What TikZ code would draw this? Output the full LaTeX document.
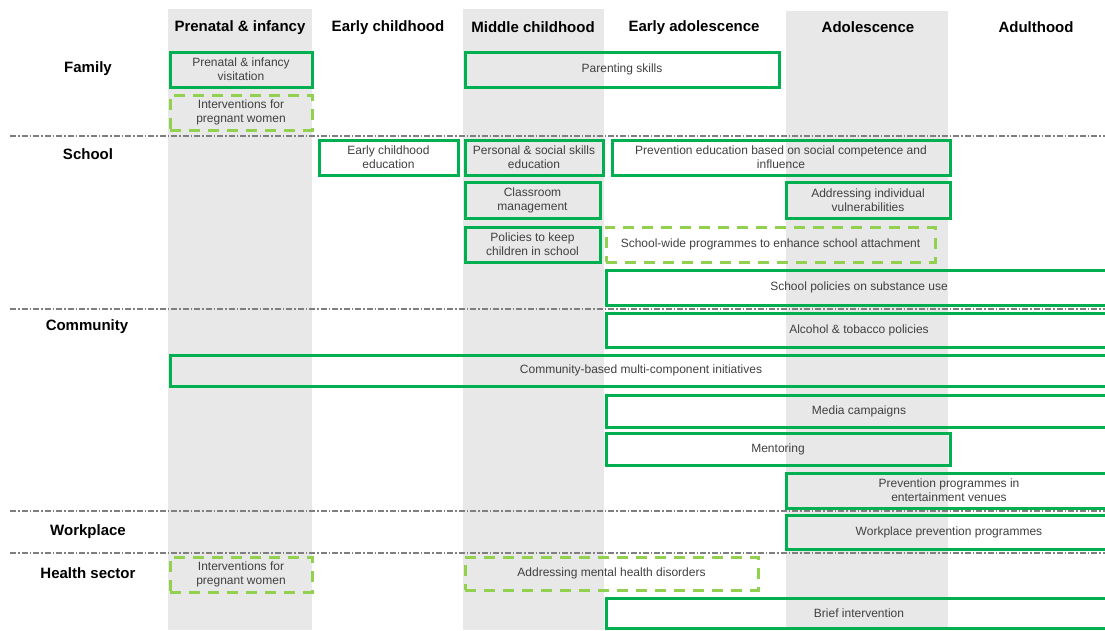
\documentclass[tikz,border=0pt]{standalone}
\usepackage{fontspec}
\setsansfont{Liberation Sans}
\definecolor{boxgreen}{HTML}{00B050}
\definecolor{lightgreen}{HTML}{92D050}
\definecolor{colgray}{HTML}{E8E8E8}
\definecolor{boxtext}{HTML}{404040}
\definecolor{linegray}{HTML}{7F7F7F}

\begin{document}
\begin{tikzpicture}[x=1pt, y=-1pt, font=\sffamily,
    solidbox/.style={draw=boxgreen, line width=3pt, text=boxtext, align=center, inner sep=2pt,
                     font=\sffamily\fontsize{12}{14}\selectfont},
    dashbox/.style={solidbox, draw=lightgreen, dash pattern=on 11pt off 8pt},
    header/.style={font=\sffamily\bfseries\fontsize{15}{17}\selectfont},
    rowlabel/.style={header},
    divider/.style={draw=linegray, line width=1.5pt, dash pattern=on 6pt off 2pt on 1.5pt off 2pt}]
          \useasboundingbox (0,0) rectangle (1105,630);
          \clip (0,0) rectangle (1105,630);
          % age columns
          \fill[colgray] (168,9) rectangle (312,630);
          \fill[colgray] (463,9) rectangle (604,630);
          \fill[colgray] (786,11) rectangle (948,630);
          \node[header](prenatal)  at (240,27.5)  {Prenatal \& infancy};
          \node[header](early)     at (388,27.5)  {Early childhood};
          \node[header](middle)    at (533,27.5)  {Middle childhood};
          \node[header](earlyadol) at (694,27.5)  {Early adolescence};
          \node[header](adol)      at (868,27.5)  {Adolescence};
          \node[header](adult)     at (1036,27.5) {Adulthood};
          % settings
          \node[rowlabel](family)    at (88,68.5)  {Family};
          \node[rowlabel](school)    at (88,154.5) {School};
          \node[rowlabel](community) at (87,326.5) {Community};
          \node[rowlabel](workplace) at (88,531.5) {Workplace};
          \node[rowlabel](health)    at (88,573.5) {Health sector};
          \draw[divider] (10,136) -- (1105,136);
          \draw[divider] (10,309) -- (1105,309);
          \draw[divider] (10,511) -- (1105,511);
          \draw[divider] (10,553) -- (1105,553);
          % family
          \node[solidbox, minimum width=142, minimum height=35](visit)   at (241,69.5)  {Prenatal \& infancy\\visitation};
          \node[dashbox,  minimum width=142, minimum height=35](pregfam) at (241,112.5) {Interventions for\\pregnant women};
          \node[solidbox, minimum width=314, minimum height=35](parent)  at (622,69.5)  {Parenting skills};
          % school
          \node[solidbox, minimum width=139, minimum height=35](earlyed)   at (388.5,157.5) {Early childhood\\education};
          \node[solidbox, minimum width=138, minimum height=35](social)    at (534,157.5)   {Personal \& social skills\\education};
          \node[solidbox, minimum width=338, minimum height=35](compet)    at (781,157.5)   {Prevention education based on social competence and\\influence};
          \node[solidbox, minimum width=135, minimum height=36](classroom) at (532.5,200)   {Classroom\\management};
          \node[solidbox, minimum width=164, minimum height=36](vulner)    at (868,200)     {Addressing individual\\vulnerabilities};
          \node[solidbox, minimum width=135, minimum height=35](keep)      at (532.5,244.5) {Policies to keep\\children in school};
          \node[dashbox,  minimum width=329, minimum height=35](attach)    at (770.5,244.5) {School-wide programmes to enhance school attachment};
          \node[solidbox, minimum width=506, minimum height=35](subst)     at (859,287.5)   {School policies on substance use};
          % community
          \node[solidbox, minimum width=506, minimum height=34](alcohol) at (859,330)   {Alcohol \& tobacco policies};
          \node[solidbox, minimum width=942, minimum height=31](multi)   at (641,370.5) {Community-based multi-component initiatives};
          \node[solidbox, minimum width=506, minimum height=32](media)   at (859,411)   {Media campaigns};
          \node[solidbox, minimum width=344, minimum height=32](mentor)  at (778,449)   {Mentoring};
          \node[solidbox, minimum width=326, minimum height=35](venues)  at (949,490.5) {Prevention programmes in\\entertainment venues};
          % workplace
          \node[solidbox, minimum width=326, minimum height=34](workprog) at (949,532) {Workplace prevention programmes};
          % health sector
          \node[dashbox,  minimum width=142, minimum height=35](preghealth) at (241,574.5)   {Interventions for\\pregnant women};
          \node[dashbox,  minimum width=293, minimum height=33](mental)     at (611.5,573.5) {Addressing mental health disorders};
          \node[solidbox, minimum width=506, minimum height=30](brief)      at (859,613)     {Brief intervention};
        \end{tikzpicture}
\end{document}
